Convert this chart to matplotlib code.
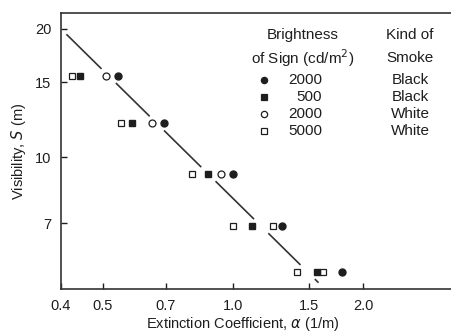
import numpy as np
import matplotlib
matplotlib.use("Agg")
import matplotlib.pyplot as plt
from matplotlib.lines import Line2D
from matplotlib.ticker import FixedLocator, FixedFormatter, NullLocator

plt.rcParams['font.family'] = ['Liberation Sans', 'DejaVu Sans']

# visibility rows (m) - each row has one point per series
rows_S = [15.5, 12.0, 9.12, 6.88, 5.37]

# extinction coefficient (1/m) per series
black_2000 = [0.542, 0.692, 1.00, 1.298, 1.787]   # filled circles
black_500 = [0.443, 0.584, 0.875, 1.107, 1.564]   # filled squares
white_2000 = [0.508, 0.649, 0.938]                # open circles
white_2000_S = [15.5, 12.0, 9.12]
white_5000 = [0.424, 0.551, 0.804, 1.00, 1.238, 1.406, 1.615]  # open squares
white_5000_S = [15.5, 12.0, 9.12, 6.88, 6.88, 5.37, 5.37]

# fitted line S = C / alpha
fit_C = 8.0
fit_range = (0.413, 1.573)

xticks = [0.4, 0.5, 0.7, 1.0, 1.5, 2.0]
xticklabels = ['0.4', '0.5', '0.7', '1.0', '1.5', '2.0']
yticks = [7, 10, 15, 20]
yticklabels = ['7', '10', '15', '20']

legend_rows = [('2000', 'Black', 'o', 'k'),
               ('500', 'Black', 's', 'k'),
               ('2000', 'White', 'o', 'w'),
               ('5000', 'White', 's', 'w')]

W, H = 452, 334
fig = plt.figure(figsize=(W / 100, H / 100), dpi=100)
ax = fig.add_axes([61 / W, 45 / H, 407 / W, 276 / H])

tc = '#1e1e1e'

# fit line, broken where it crosses each row of markers
xx = np.exp(np.linspace(np.log(fit_range[0]), np.log(fit_range[1]), 600))
yy = fit_C / xx
for r in rows_S:
    yy = np.where(np.abs(np.log(yy) - np.log(r)) < 0.04, np.nan, yy)
ax.plot(xx, yy, color='#333333', lw=1.2, zorder=2)

ms = 5
ax.plot(white_5000, white_5000_S, 's', ms=ms - 0.5, mfc='white', mec=tc, mew=0.9,
        ls='none', zorder=3)
ax.plot(black_500, rows_S, 's', ms=ms - 0.5, mfc=tc, mec=tc, ls='none', zorder=3)
ax.plot(white_2000, white_2000_S, 'o', ms=ms, mfc='white', mec=tc, mew=0.9,
        ls='none', zorder=3)
ax.plot(black_2000, rows_S, 'o', ms=ms, mfc=tc, mec=tc, ls='none', zorder=3)

ax.set_xscale('log')
ax.set_yscale('log')
ax.set_xlim(0.4, 3.5)
ax.set_ylim(4.9, 21.8)
ax.xaxis.set_major_locator(FixedLocator(xticks))
ax.xaxis.set_major_formatter(FixedFormatter(xticklabels))
ax.xaxis.set_minor_locator(NullLocator())
ax.yaxis.set_major_locator(FixedLocator(yticks))
ax.yaxis.set_major_formatter(FixedFormatter(yticklabels))
ax.yaxis.set_minor_locator(NullLocator())
ax.tick_params(direction='in', length=4, width=1, pad=7, labelsize=10.5,
               colors=tc)
for s in ['left', 'bottom', 'top']:
    ax.spines[s].set_linewidth(1.2)
    ax.spines[s].set_color('#333333')
ax.spines['right'].set_visible(False)

ax.set_ylabel('Visibility, $\\mathit{S}$ (m)', fontsize=10.5, color=tc, labelpad=5)
ax.set_xlabel('Extinction Coefficient, $\\alpha$ (1/m)', fontsize=10.5, color=tc)
ax.xaxis.set_label_coords((243 - 61) / 407, -0.095)
ax.xaxis.label.set_va('top')

# legend block
def fx(px):
    return px / W

def fy(py):
    return 1 - py / H

fs = 11
fig.text(fx(303), fy(35), 'Brightness', ha='center', va='center', fontsize=fs, color=tc)
fig.text(fx(303), fy(58), 'of Sign (cd/m$^2$)', ha='center', va='center', fontsize=fs,
         color=tc)
fig.text(fx(410), fy(35), 'Kind of', ha='center', va='center', fontsize=fs, color=tc)
fig.text(fx(410), fy(58), 'Smoke', ha='center', va='center', fontsize=fs, color=tc)
for i, (val, kind, mk, fc) in enumerate(legend_rows):
    y = 80 + i * 17
    face = tc if fc == 'k' else 'white'
    fig.add_artist(Line2D([fx(264)], [fy(y)], marker=mk, ms=4.5 if mk == 'o' else 4,
                          mfc=face, mec=tc, mew=0.9, ls='none'))
    fig.text(fx(322), fy(y), val, ha='right', va='center', fontsize=fs, color=tc)
    fig.text(fx(410), fy(y), kind, ha='center', va='center', fontsize=fs, color=tc)

fig.savefig('out.png', dpi=100)
